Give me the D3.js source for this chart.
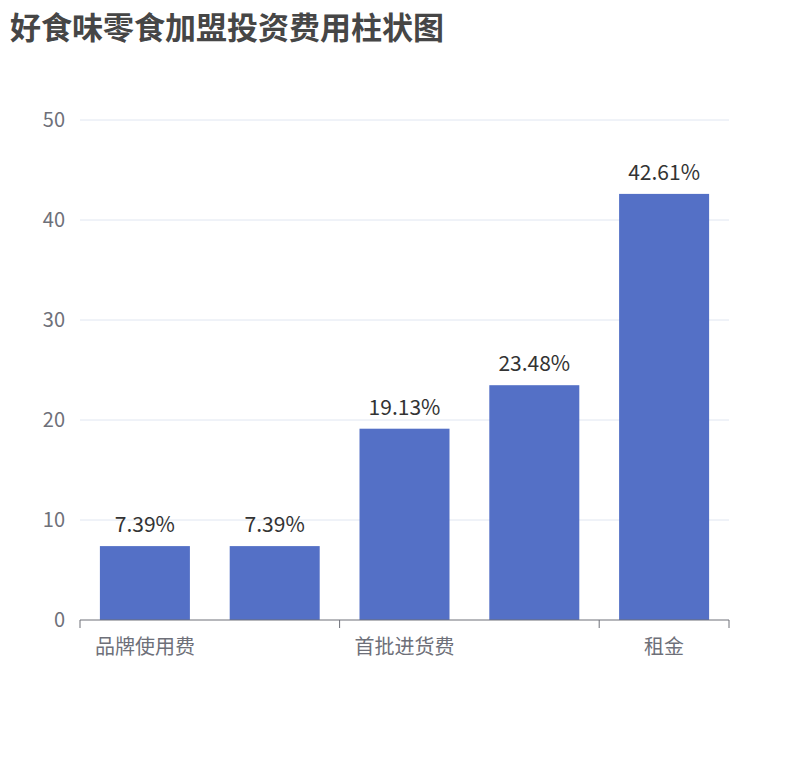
<!DOCTYPE html>
<html><head><meta charset="utf-8">
<script src="https://cdn.jsdelivr.net/npm/d3@7"></script>
<style>body{margin:0;background:#fff;font-family:"Noto Sans CJK SC","Noto Sans",sans-serif;}</style>
</head><body><svg id="chart" width="810" height="760"></svg>
<script>
var categories = ["品牌使用费", "加盟费", "首批进货费", "装修费", "租金"];
var values = [7.39, 7.39, 19.13, 23.48, 42.61];
var shownLabels = [0, 2, 4];
var yTicks = [0, 10, 20, 30, 40, 50];

var svg = d3.select("#chart");
var plotLeft = 80, plotRight = 729, plotTop = 120, plotBottom = 620;

svg.append("text").attr("x", 10).attr("y", 39)
  .attr("font-size", 31).attr("font-weight", "bold").attr("fill", "#464646")
  .text("好食味零食加盟投资费用柱状图");

var x = d3.scaleBand().domain(categories).range([plotLeft, plotRight]).paddingInner(0).paddingOuter(0);
var y = d3.scaleLinear().domain([0, 50]).range([plotBottom, plotTop]);

svg.selectAll("line.grid").data(yTicks.slice(1)).enter().append("line")
  .attr("x1", plotLeft).attr("x2", plotRight)
  .attr("y1", function(d){ return y(d); }).attr("y2", function(d){ return y(d); })
  .attr("stroke", "#e0e6f1");

svg.selectAll("text.yl").data(yTicks).enter().append("text")
  .attr("x", plotLeft - 15).attr("y", function(d){ return y(d); })
  .attr("dy", "0.35em").attr("text-anchor", "end")
  .attr("font-size", 20).attr("fill", "#6e7079")
  .text(function(d){ return d; });

var bw = 90;
svg.selectAll("rect.bar").data(values).enter().append("rect")
  .attr("x", function(d, i){ return x(categories[i]) + (x.bandwidth() - bw) / 2; })
  .attr("width", bw)
  .attr("y", function(d){ return y(d); })
  .attr("height", function(d){ return plotBottom - y(d); })
  .attr("fill", "#5470c6");

svg.selectAll("text.val").data(values).enter().append("text")
  .attr("x", function(d, i){ return x(categories[i]) + x.bandwidth() / 2; })
  .attr("y", function(d){ return y(d) - 14; })
  .attr("text-anchor", "middle").attr("font-size", 21).attr("fill", "#333")
  .text(function(d){ return d.toFixed(2) + "%"; });

svg.append("line").attr("x1", plotLeft).attr("x2", plotRight).attr("y1", plotBottom).attr("y2", plotBottom)
  .attr("stroke", "#6e7079");
var tickPos = shownLabels.map(function(i){ return x(categories[i]); }).concat([plotRight]);
svg.selectAll("line.tick").data(tickPos).enter().append("line")
  .attr("x1", function(d){ return d; }).attr("x2", function(d){ return d; })
  .attr("y1", plotBottom).attr("y2", plotBottom + 8).attr("stroke", "#6e7079");

svg.selectAll("text.xl").data(shownLabels).enter().append("text")
  .attr("x", function(i){ return x(categories[i]) + x.bandwidth() / 2; })
  .attr("y", plotBottom + 34).attr("text-anchor", "middle")
  .attr("font-size", 20).attr("fill", "#6e7079")
  .text(function(i){ return categories[i]; });
</script></body></html>
